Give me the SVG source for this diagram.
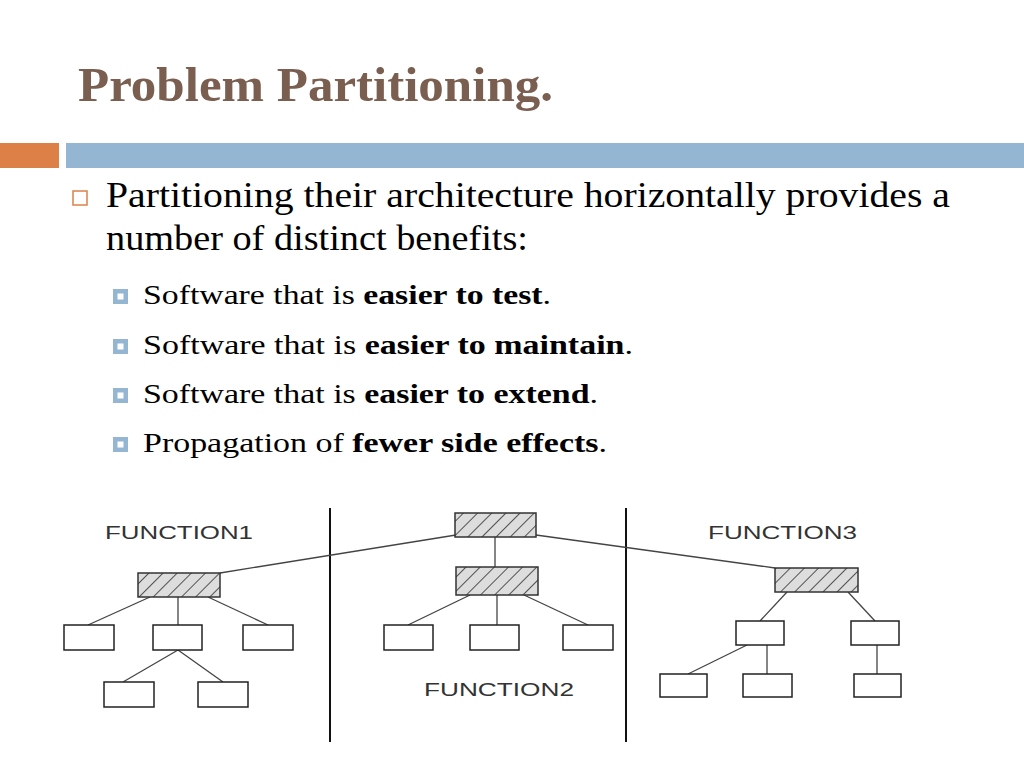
<svg xmlns="http://www.w3.org/2000/svg" width="1024" height="768" viewBox="0 0 1024 768">
<style>
.t{font-family:"Liberation Serif",serif;fill:#000}
.f{font-family:"Liberation Sans",sans-serif;font-size:18px;fill:#333}
.b{fill:#fff;stroke:#222;stroke-width:1.5}
.h{fill:url(#hatch);stroke:#333;stroke-width:1.5}
.c line{stroke:#444;stroke-width:1.3}
</style>
<defs>
<pattern id="hatch" width="10" height="10" patternUnits="userSpaceOnUse" patternTransform="rotate(45)">
<rect width="10" height="10" fill="#ddd"/><line x1="0" y1="0" x2="0" y2="10" stroke="#222" stroke-width="1.5"/>
</pattern>
</defs>
<rect width="1024" height="768" fill="#fff"/>
<text x="78" y="101" class="t" font-size="48" font-weight="bold" style="fill:#7a5e50" textLength="475" lengthAdjust="spacingAndGlyphs">Problem Partitioning.</text>
<rect x="0" y="143" width="59" height="25" fill="#dd8047"/>
<rect x="66" y="143" width="958" height="25" fill="#94b6d2"/>
<rect x="73" y="191" width="14" height="14" fill="none" stroke="#dd8047" stroke-width="1.5"/>
<text x="106" y="207" class="t" font-size="35" textLength="844" lengthAdjust="spacingAndGlyphs">Partitioning their architecture horizontally provides a</text>
<text x="106" y="250" class="t" font-size="35" textLength="422" lengthAdjust="spacingAndGlyphs">number of distinct benefits:</text>
<g fill="#94b6d2">
<rect x="113" y="289" width="15" height="15"/><rect x="113" y="339" width="15" height="15"/><rect x="113" y="388" width="15" height="15"/><rect x="113" y="437" width="15" height="15"/>
</g>
<g fill="#fff"><rect x="117.5" y="293.5" width="6" height="6"/><rect x="117.5" y="343.5" width="6" height="6"/><rect x="117.5" y="392.5" width="6" height="6"/><rect x="117.5" y="441.5" width="6" height="6"/></g>
<text x="143" y="304" class="t" font-size="28" textLength="408" lengthAdjust="spacingAndGlyphs">Software that is <tspan font-weight="bold">easier to test</tspan>.</text>
<text x="143" y="354" class="t" font-size="28" textLength="490" lengthAdjust="spacingAndGlyphs">Software that is <tspan font-weight="bold">easier to maintain</tspan>.</text>
<text x="143" y="403" class="t" font-size="28" textLength="455" lengthAdjust="spacingAndGlyphs">Software that is <tspan font-weight="bold">easier to extend</tspan>.</text>
<text x="143" y="452" class="t" font-size="28" textLength="464" lengthAdjust="spacingAndGlyphs">Propagation of <tspan font-weight="bold">fewer side effects</tspan>.</text>
<g stroke="#111" stroke-width="2"><line x1="330" y1="508" x2="330" y2="742"/><line x1="626" y1="508" x2="626" y2="742"/></g>
<text x="105" y="539" class="f" textLength="148" lengthAdjust="spacingAndGlyphs">FUNCTION1</text>
<text x="424" y="696" class="f" textLength="150" lengthAdjust="spacingAndGlyphs">FUNCTION2</text>
<text x="708" y="539" class="f" textLength="149" lengthAdjust="spacingAndGlyphs">FUNCTION3</text>
<g class="c">
<line x1="456" y1="535" x2="220" y2="573"/><line x1="536" y1="535" x2="775" y2="568"/><line x1="495" y1="537" x2="495" y2="567"/>
<line x1="150" y1="597" x2="88" y2="625"/><line x1="178" y1="597" x2="178" y2="625"/><line x1="208" y1="597" x2="268" y2="625"/>
<line x1="178" y1="650" x2="123" y2="682"/><line x1="178" y1="650" x2="223" y2="682"/>
<line x1="470" y1="595" x2="408" y2="625"/><line x1="497" y1="595" x2="497" y2="625"/><line x1="524" y1="595" x2="588" y2="625"/>
<line x1="787" y1="592" x2="760" y2="621"/><line x1="848" y1="592" x2="875" y2="621"/>
<line x1="747" y1="645" x2="688" y2="674"/><line x1="767" y1="645" x2="767" y2="674"/><line x1="877" y1="645" x2="877" y2="674"/>
</g>
<g id="top"><rect class="h" x="455" y="513" width="81" height="24"/></g>
<g id="f1"><rect class="h" x="138" y="573" width="82" height="24"/></g>
<g id="f2"><rect class="h" x="456" y="567" width="82" height="28"/></g>
<g id="f3"><rect class="h" x="775" y="568" width="83" height="24"/></g>
<g id="f1leaves">
<rect class="b" x="64" y="625" width="50" height="25"/><rect class="b" x="153" y="625" width="49" height="25"/><rect class="b" x="243" y="625" width="50" height="25"/>
<rect class="b" x="104" y="682" width="50" height="25"/><rect class="b" x="198" y="682" width="50" height="25"/>
</g>
<g id="f2leaves">
<rect class="b" x="384" y="625" width="49" height="25"/><rect class="b" x="470" y="625" width="49" height="25"/><rect class="b" x="563" y="625" width="50" height="25"/>
</g>
<g id="f3leaves">
<rect class="b" x="736" y="621" width="48" height="24"/><rect class="b" x="851" y="621" width="48" height="24"/>
<rect class="b" x="660" y="674" width="47" height="23"/><rect class="b" x="743" y="674" width="49" height="23"/><rect class="b" x="854" y="674" width="47" height="23"/>
</g>
</svg>
